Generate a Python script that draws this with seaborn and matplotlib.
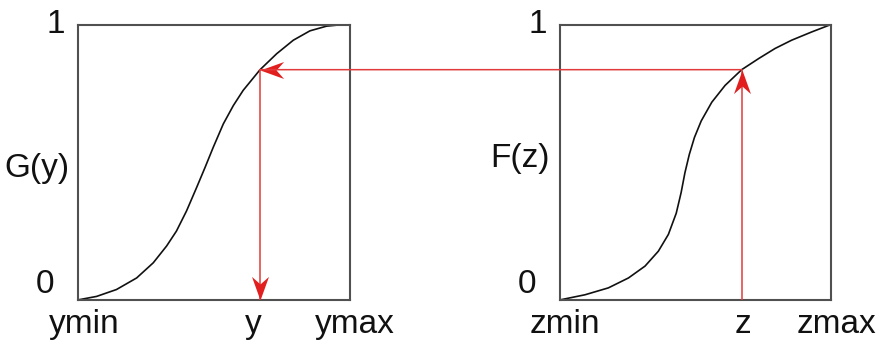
import numpy as np
import pandas as pd
import matplotlib
matplotlib.use("Agg")
import matplotlib.pyplot as plt
from matplotlib.path import Path
from matplotlib.patches import ConnectionPatch
import seaborn as sns

# Cumulative curve of the target variable, G(y), on a normalised 0..1 range
g_x = [0.0, 0.07, 0.143, 0.217, 0.278, 0.327, 0.363, 0.400, 0.437, 0.468,
       0.498, 0.535, 0.572, 0.608, 0.670, 0.731, 0.792, 0.853, 0.914, 0.976, 1.0]
g_y = [0.0, 0.013, 0.038, 0.080, 0.135, 0.196, 0.250, 0.323, 0.408, 0.481,
       0.554, 0.639, 0.706, 0.761, 0.836, 0.894, 0.943, 0.977, 0.994, 1.0, 1.0]

# Cumulative curve of the source variable, F(z)
f_x = [0.0, 0.094, 0.18, 0.254, 0.315, 0.364, 0.401, 0.430, 0.448, 0.462,
       0.478, 0.497, 0.522, 0.561, 0.610, 0.671, 0.733, 0.794, 0.855, 0.929, 1.0]
f_y = [0.0, 0.019, 0.044, 0.080, 0.123, 0.177, 0.238, 0.315, 0.390, 0.462,
       0.528, 0.590, 0.650, 0.718, 0.779, 0.836, 0.876, 0.913, 0.943, 0.973, 1.0]

# The mapped value: z on the right and its transformed counterpart y on the left
z_value = 0.671
y_value = 0.670
level = 0.836

left_labels = ["ymin", "y", "ymax"]
right_labels = ["zmin", "z", "zmax"]

sns.set_style("white")
plt.rcParams["font.family"] = ["Liberation Sans", "DejaVu Sans"]

W, H = 884, 345
fig = plt.figure(figsize=(W / 100, H / 100), dpi=100)


def fx(x):
    return x / W


def fy(y):
    return 1 - y / H


ax_g = fig.add_axes([fx(77.5), fy(300), (350 - 77.5) / W, (300 - 24.5) / H])
ax_f = fig.add_axes([fx(559.5), fy(300), (831 - 559.5) / W, (300 - 24.5) / H])

g_df = pd.DataFrame({"x": g_x, "cdf": g_y})
f_df = pd.DataFrame({"x": f_x, "cdf": f_y})
sns.lineplot(data=g_df, x="x", y="cdf", ax=ax_g, color="#111111", lw=1.2)
sns.lineplot(data=f_df, x="x", y="cdf", ax=ax_f, color="#111111", lw=1.2)

for ax in (ax_g, ax_f):
    ax.set_xlim(0, 1)
    ax.set_ylim(0, 1)
    ax.set_xticks([])
    ax.set_yticks([])
    ax.set_xlabel("")
    ax.set_ylabel("")
    for s in ax.spines.values():
        s.set_visible(True)
        s.set_color("#505050")
        s.set_linewidth(1.5)

red = "#e23a3a"
head_col = "#e21f1f"

# arrow head marker: tip at the origin, swept-back barbs
head = Path([(0, 0), (-1.0, 0.36), (-0.68, 0), (-1.0, -0.36), (0, 0)],
            [Path.MOVETO, Path.LINETO, Path.LINETO, Path.LINETO, Path.CLOSEPOLY])


def rotated(path, deg):
    t = np.deg2rad(deg)
    R = np.array([[np.cos(t), -np.sin(t)], [np.sin(t), np.cos(t)]])
    return Path(path.vertices @ R.T, path.codes)


ms = 34

# vertical line on the right, from z up to the F curve
ax_f.plot([z_value, z_value], [0, level], color=red, lw=1.1, zorder=3)
ax_f.plot([z_value], [level], marker=rotated(head, 90), ms=ms, color=head_col,
          mec="none", zorder=4, clip_on=False)

# horizontal line across to the G curve
con = ConnectionPatch(xyA=(z_value, level), coordsA=ax_f.transData,
                      xyB=(y_value, level), coordsB=ax_g.transData,
                      color=red, lw=1.1, zorder=3)
fig.add_artist(con)
ax_g.plot([y_value], [level], marker=rotated(head, 180), ms=ms, color=head_col,
          mec="none", zorder=4, clip_on=False)

# vertical line down to y
ax_g.plot([y_value, y_value], [level, 0], color=red, lw=1.1, zorder=3)
ax_g.plot([y_value], [0], marker=rotated(head, -90), ms=ms, color=head_col,
          mec="none", zorder=4, clip_on=False)

fs = 24
txt = dict(fontsize=fs, color="#111111", va="baseline", ha="center")

fig.text(fx(56), fy(33), "1", **txt)
fig.text(fx(45), fy(293), "0", **txt)
fig.text(fx(37), fy(177), "G(y)", **txt)
for lab, xp in zip(left_labels, [84, 253, 355]):
    fig.text(fx(xp), fy(333), lab, **txt)

fig.text(fx(538), fy(33), "1", **txt)
fig.text(fx(527), fy(293), "0", **txt)
fig.text(fx(520), fy(167), "F(z)", **txt)
for lab, xp in zip(right_labels, [565, 743, 836]):
    fig.text(fx(xp), fy(333), lab, **txt)

fig.savefig("out.png", dpi=100, facecolor="white")
